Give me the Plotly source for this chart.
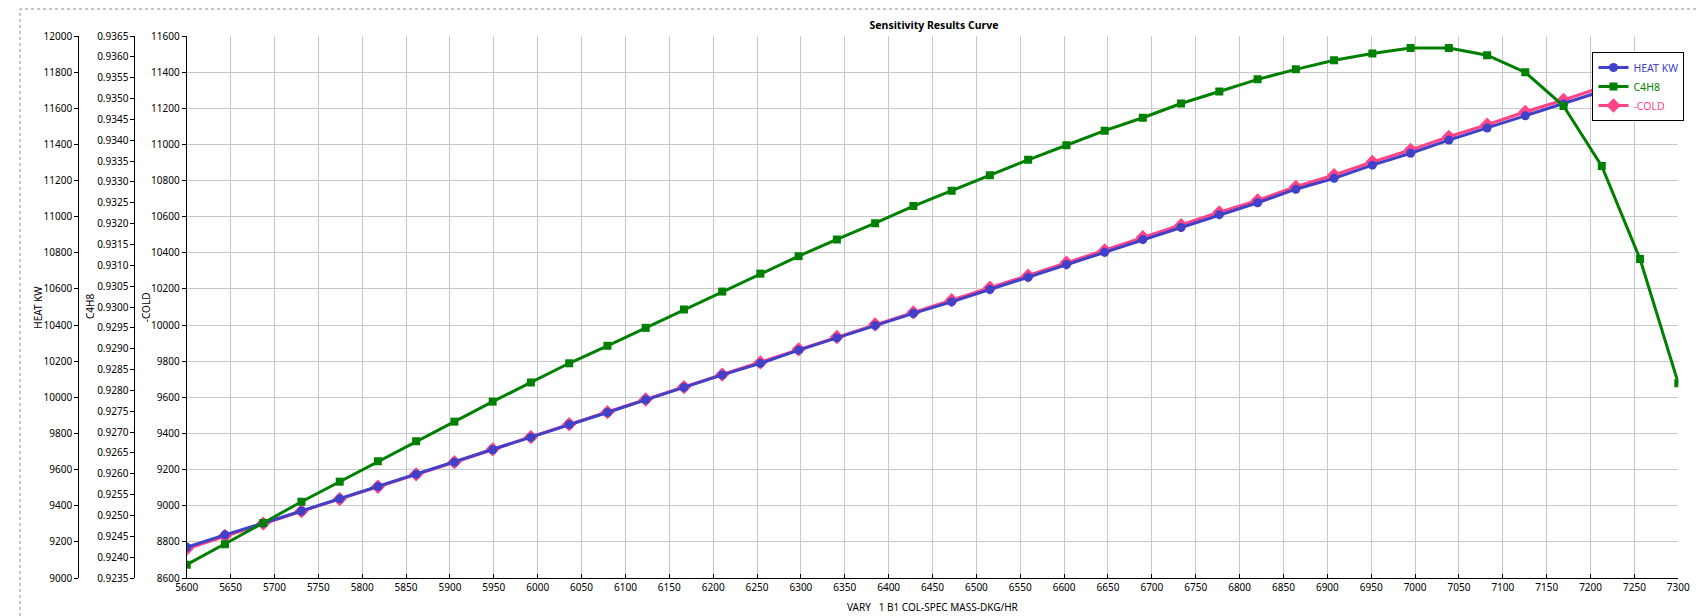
import plotly.graph_objects as go

# Sensitivity data
vary_mass = [5600.0, 5643.6, 5687.2, 5730.8, 5774.4, 5817.9, 5861.5, 5905.1, 5948.7, 5992.3,
             6035.9, 6079.5, 6123.1, 6166.7, 6210.3, 6253.8, 6297.4, 6341.0, 6384.6, 6428.2,
             6471.8, 6515.4, 6559.0, 6602.6, 6646.2, 6689.7, 6733.3, 6776.9, 6820.5, 6864.1,
             6907.7, 6951.3, 6994.9, 7038.5, 7082.1, 7125.6, 7169.2, 7212.8, 7256.4, 7300.0]

heat_kw = [9170, 9239, 9303, 9371, 9438, 9506, 9574, 9641, 9710, 9778,
           9849, 9916, 9986, 10055, 10124, 10188, 10261, 10329, 10398, 10465,
           10528, 10597, 10664, 10735, 10803, 10873, 10940, 11011, 11077, 11152,
           11212, 11285, 11351, 11424, 11491, 11558, 11624, 11694, 11765, 11835]

c4h8 = [0.92382, 0.92431, 0.92482, 0.92533, 0.92581, 0.92630, 0.92678, 0.92725, 0.92773, 0.92819,
        0.92865, 0.92907, 0.92950, 0.92994, 0.93037, 0.93080, 0.93122, 0.93162, 0.93201, 0.93242,
        0.93279, 0.93316, 0.93353, 0.93388, 0.93423, 0.93454, 0.93488, 0.93517, 0.93546, 0.93570,
        0.93592, 0.93608, 0.93621, 0.93621, 0.93604, 0.93563, 0.93482, 0.93338, 0.93115, 0.92817]

cold = [8762, 8833, 8901, 8970, 9037, 9105, 9174, 9241, 9312, 9380,
        9451, 9518, 9588, 9657, 9726, 9793, 9866, 9934, 10003, 10070,
        10138, 10207, 10274, 10345, 10413, 10486, 10553, 10624, 10690, 10765,
        10830, 10903, 10969, 11042, 11109, 11180, 11246, 11316, 11387, 11457]

W, H = 1705, 616
PL, PR, PT, PB = 170, 1682, 28, 570   # plot area in pixels
FONT = "Noto Sans"

BLUE = "#4040c8"
GREEN = "#008000"
PINK = "#ff4488"


def px_x(x):
    return x / W


def px_y(y):
    return (PB - y) / (PB - PT)


fig = go.Figure()

fig.add_trace(go.Scatter(
    x=vary_mass, y=heat_kw, yaxis="y2", mode="lines+markers",
    name=f"<span style='color:{BLUE}'>HEAT KW</span>",
    line=dict(color=BLUE, width=3),
    marker=dict(symbol="circle", size=9, color=BLUE),
))
fig.add_trace(go.Scatter(
    x=vary_mass, y=c4h8, yaxis="y3", mode="lines+markers",
    name=f"<span style='color:{GREEN}'>C4H8</span>",
    line=dict(color=GREEN, width=3),
    marker=dict(symbol="square", size=8, color=GREEN),
))
fig.add_trace(go.Scatter(
    x=vary_mass, y=cold, yaxis="y", mode="lines+markers",
    name=f"<span style='color:{PINK}'>-COLD</span>",
    line=dict(color=PINK, width=3.2),
    marker=dict(symbol="diamond", size=11, color=PINK),
))

axis_common = dict(
    showline=True, linecolor="black", linewidth=1,
    ticks="outside", ticklen=4, tickcolor="black",
    tickfont=dict(family=FONT, size=10, color="black"),
    zeroline=False,
)

fig.update_layout(
    width=W, height=H,
    margin=dict(l=0, r=0, t=PT, b=H - PB),
    paper_bgcolor="white", plot_bgcolor="white",
    font=dict(family=FONT, size=10, color="black"),
    title=dict(text="<b>Sensitivity Results Curve</b>", x=px_x(926), xanchor="center",
               y=1 - 17 / H, yanchor="middle", font=dict(family=FONT, size=10.5)),
    showlegend=True,
    legend=dict(x=px_x(1595), y=px_y(44), xanchor="left", yanchor="top",
                bgcolor="white", bordercolor="black", borderwidth=1,
                font=dict(family=FONT, size=10.5), itemwidth=30,
                tracegroupgap=0),
    xaxis=dict(
        domain=[px_x(PL), px_x(PR)], range=[5600, 7300], dtick=50, tick0=5600,
        tickformat="d",
        showgrid=True, gridcolor="#c8c8c8", gridwidth=1,
        **{**axis_common, "ticks": "inside"},
    ),
    yaxis=dict(
        range=[8600, 11600], dtick=200, tick0=8600, tickformat="d",
        showgrid=True, gridcolor="#c8c8c8", gridwidth=1,
        **axis_common,
    ),
    yaxis2=dict(
        range=[9000, 12000], dtick=200, tick0=9000, tickformat="d",
        overlaying="y", anchor="free", position=px_x(60), side="left",
        showgrid=False,
        **axis_common,
    ),
    yaxis3=dict(
        range=[0.9235, 0.9365], dtick=0.0005, tick0=0.9235, tickformat=".4f",
        overlaying="y", anchor="free", position=px_x(117), side="left",
        showgrid=False,
        **axis_common,
    ),
)

# axis titles placed where the reference has them
axis_titles = [("HEAT KW", 19, -90), ("C4H8", 72, -90), ("-COLD", 129, -90)]
for text, xpos, angle in axis_titles:
    fig.add_annotation(text=text, xref="paper", yref="paper",
                       x=px_x(xpos), y=px_y(299), xanchor="center", yanchor="middle",
                       textangle=angle, showarrow=False,
                       font=dict(family=FONT, size=10, color="black"))
fig.add_annotation(text="VARY\u00a0\u00a0\u00a01 B1 COL-SPEC MASS-DKG/HR",
                   xref="paper", yref="paper", x=px_x(926), y=px_y(599),
                   xanchor="center", yanchor="middle", showarrow=False,
                   font=dict(family=FONT, size=10, color="black"))

# dotted frame around the whole chart
fig.add_shape(type="rect", xref="paper", yref="paper",
              x0=px_x(1), x1=px_x(1702), y0=px_y(613), y1=px_y(1),
              line=dict(color="#8a8a8a", width=1, dash="dot"), layer="below")

fig.write_html("out.html")
